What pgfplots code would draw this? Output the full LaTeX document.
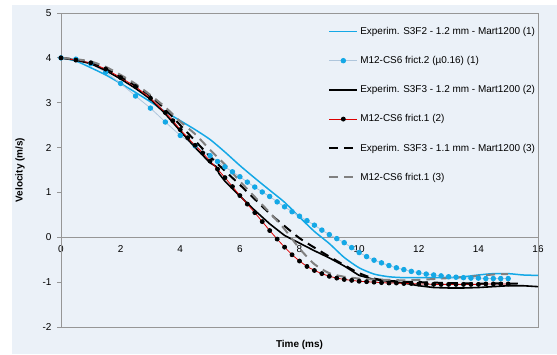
\documentclass[border=0pt]{standalone}
\usepackage{pgfplots}
\pgfplotsset{compat=1.18}
\usepackage{fontspec}
\setmainfont{Liberation Sans}
\definecolor{bgc}{RGB}{235,241,248}
\definecolor{framec}{RGB}{150,150,150}
\definecolor{lblue}{RGB}{20,168,230}
\definecolor{dotline}{RGB}{175,198,220}
\definecolor{dgray}{RGB}{128,128,128}
\definecolor{dred}{RGB}{220,0,0}
\begin{document}
\begin{tikzpicture}[x=1bp,y=1bp]
\fill[white] (0,0) rectangle (557,354);
\fill[bgc] (12,0) rectangle (557,349);
\begin{axis}[
  at={(61bp,27bp)}, anchor=south west,
  width=477bp, height=314bp, scale only axis,
  xmin=0, xmax=16, ymin=-2, ymax=5,
  axis x line=middle, axis y line=left,
  axis line style={framec, line width=0.8pt, -},
  hide obscured x ticks=false,
  xtick={0,2,...,16}, ytick={-2,-1,...,5},
  x tick style={draw=none},
  y tick style={framec, line width=0.8pt},
  tick align=outside, major tick length=4bp,
  font=\fontsize{10}{12}\selectfont,
  /pgf/number format/assume math mode=true,
  xticklabel style={anchor=north, yshift=-1bp, text=black},
  yticklabel style={text=black, xshift=-2bp},
  xlabel={\textbf{Time (ms)}}, ylabel={\textbf{Velocity (m/s)}},
  every axis x label/.style={at={(axis description cs:0.5,-0.058)}, anchor=center, font=\fontsize{10}{12}\selectfont},
  every axis y label/.style={at={(axis description cs:-0.086,0.5)}, rotate=90, anchor=center, font=\fontsize{10}{12}\selectfont},
  clip=false,
  legend style={at={(rel axis cs:0.56,0.962)}, anchor=north west, draw=none, fill=none,
    font=\fontsize{10}{12}\selectfont, row sep=16.5bp, inner sep=0pt},
  legend cell align=left,
  legend image code/.code={\draw[mark repeat=2,mark phase=2,#1] plot coordinates {(0bp,0bp) (14bp,0bp) (28bp,0bp)};},
]
\draw[framec, line width=0.8pt] (rel axis cs:0,0) rectangle (rel axis cs:1,1);

% (1) experiment S3F2
\addplot[lblue, line width=1.5pt, smooth, tension=0.4] coordinates {
(0,4.00) (0.5,3.93) (1,3.78) (1.5,3.62) (2,3.43) (2.5,3.23) (3,3.02) (3.5,2.80)
(4,2.60) (4.5,2.40) (5,2.18) (5.5,1.90) (6,1.60) (6.5,1.32) (7,1.05) (7.5,0.78)
(8,0.45) (8.5,0.13) (9,-0.14) (9.5,-0.45) (10,-0.68) (10.5,-0.82) (11,-0.88)
(11.5,-0.90) (12,-0.90) (13,-0.90) (13.5,-0.88) (14,-0.84) (14.5,-0.81) (15,-0.81)
(15.5,-0.84) (16,-0.85)};
\addlegendentry{Experim. S3F2 - 1.2 mm - Mart1200 (1)}

% (1) M12-CS6 frict.2
\addplot[dotline, line width=0.8pt, mark=*, mark size=2.3bp, mark options={lblue, fill=lblue, draw=lblue}] coordinates {
(0,4.00) (0.5,3.97) (1,3.87) (1.5,3.68) (2,3.43) (2.5,3.15) (3,2.88) (3.5,2.57)
(4,2.27) (4.5,2.04) (5,1.82) (5.25,1.69) (5.5,1.57) (5.75,1.46) (6,1.35) (6.25,1.23)
(6.5,1.12) (6.75,1.01) (7,0.91) (7.25,0.79) (7.5,0.68) (7.75,0.57) (8,0.47) (8.25,0.37)
(8.5,0.27) (8.75,0.16) (9,0.06) (9.25,-0.03) (9.5,-0.12) (9.75,-0.23) (10,-0.34)
(10.25,-0.43) (10.5,-0.51) (10.75,-0.57) (11,-0.63) (11.25,-0.68) (11.5,-0.72)
(11.75,-0.76) (12,-0.79) (12.25,-0.82) (12.5,-0.84) (12.75,-0.86) (13,-0.88)
(13.25,-0.89) (13.5,-0.90) (13.75,-0.91) (14,-0.91) (14.25,-0.92) (14.5,-0.92)
(14.75,-0.92) (15,-0.92)};
\addlegendentry{M12-CS6 frict.2 (µ0.16) (1)}

% (2) experiment S3F3 1.2mm
\addplot[black, line width=1.6pt] coordinates {
(0,4.00) (0.5,3.95) (1,3.87) (1.5,3.72) (2,3.53) (2.5,3.32) (3,3.08) (3.5,2.75)
(4,2.37) (4.5,2.00) (5,1.66) (5.2,1.58) (5.3,1.42) (5.5,1.25) (6,0.92) (6.5,0.60)
(7,0.30) (7.5,0.04) (8,-0.13) (8.5,-0.30) (9,-0.46) (9.5,-0.64) (10,-0.85)
(10.5,-0.94) (11,-0.98) (11.5,-1.02) (12,-1.08) (12.5,-1.12) (13,-1.13) (13.5,-1.13)
(14,-1.12) (14.5,-1.10) (15,-1.08) (15.5,-1.08) (16,-1.10)};
\addlegendentry{Experim. S3F3 - 1.2 mm - Mart1200 (2)}

% (2) M12-CS6 frict.1
\addplot[dred, line width=0.8pt, mark=*, mark size=2bp, mark options={black, fill=black, draw=black}] coordinates {
(0,4.00) (0.5,3.95) (1,3.89) (1.5,3.75) (2,3.56) (2.5,3.36) (3,3.10) (3.5,2.78)
(3.75,2.60) (4,2.40) (4.25,2.22) (4.5,2.05) (4.75,1.88) (5,1.70) (5.25,1.52) (5.5,1.33)
(5.75,1.13) (6,0.93) (6.25,0.74) (6.5,0.55) (6.75,0.35) (7,0.15) (7.25,-0.04)
(7.5,-0.22) (7.75,-0.39) (8,-0.53) (8.25,-0.65) (8.5,-0.74) (8.75,-0.81) (9,-0.87)
(9.25,-0.91) (9.5,-0.94) (9.75,-0.96) (10,-0.98) (10.25,-0.99) (10.5,-1.00)
(10.75,-1.01) (11,-1.02) (11.25,-1.02) (11.5,-1.03) (11.75,-1.03) (12,-1.04)
(12.25,-1.04) (12.5,-1.05) (12.75,-1.05) (13,-1.05) (13.25,-1.05) (13.5,-1.05)
(13.75,-1.05) (14,-1.05) (14.25,-1.04) (14.5,-1.04) (14.75,-1.04) (15,-1.04)};
\addlegendentry{M12-CS6 frict.1 (2)}

% (3) experiment S3F3 1.1mm
\addplot[black, line width=2pt, dash pattern=on 9bp off 6bp, smooth, tension=0.4] coordinates {
(0,4.00) (0.5,3.96) (1,3.90) (1.5,3.76) (2,3.58) (2.5,3.38) (3,3.15) (3.5,2.85)
(4,2.50) (4.5,2.15) (5,1.80) (5.5,1.48) (6,1.17) (6.5,0.85) (7,0.53) (7.5,0.25)
(8,-0.02) (8.5,-0.23) (9,-0.43) (9.5,-0.62) (10,-0.80) (10.5,-0.92) (11,-0.97)
(11.5,-0.99) (12,-1.00) (13,-1.02) (14,-1.03) (15,-1.03) (15.5,-1.04)};
\addlegendentry{Experim. S3F3 - 1.1 mm - Mart1200 (3)}

% (3) M12-CS6 frict.1
\addplot[dgray, line width=2pt, dash pattern=on 9bp off 6bp, smooth, tension=0.4] coordinates {
(0,4.00) (0.5,3.97) (1,3.92) (1.5,3.80) (2,3.62) (2.5,3.42) (3,3.17) (3.5,2.90)
(4,2.58) (4.5,2.30) (5,1.95) (5.5,1.62) (6,1.25) (6.5,0.90) (7,0.55) (7.5,0.18)
(8,-0.25) (8.5,-0.60) (9,-0.80) (9.5,-0.88) (10,-0.92) (10.5,-0.94) (11,-0.95)
(11.5,-0.96) (12,-0.95) (12.5,-0.93) (13,-0.91) (13.5,-0.89) (14,-0.86) (14.5,-0.83)
(15,-0.82)};
\addlegendentry{M12-CS6 frict.1 (3)}
\end{axis}
\pgfresetboundingbox
\useasboundingbox (0,0) rectangle (557,354);
\end{tikzpicture}
\end{document}
